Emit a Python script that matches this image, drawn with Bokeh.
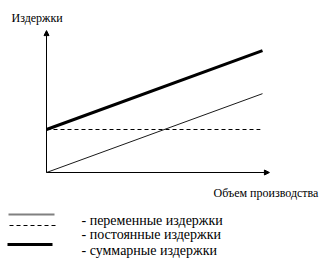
from bokeh.plotting import figure
from bokeh.models import Range1d, Arrow, NormalHead, Label
from bokeh.core.properties import value
from bokeh.embed import file_html
from bokeh.resources import INLINE

# ---- data (arbitrary units) ----
volume = [0, 10]                 # объем производства
variable_costs = [0, 5.5]        # переменные издержки
fixed_costs = [3, 3]             # постоянные издержки
total_costs = [3, 8.5]           # суммарные издержки
fixed_end = 9.9                  # dashed line stops slightly before the others
x_axis_end = 10.32
y_axis_end = 9.9

y_label = "Издержки"
x_label = "Объем производства"
legend_labels = ["- переменные издержки", "- постоянные издержки", "- суммарные  издержки"]

W, H = 327, 265
X0, Y0 = 46, 172          # pixel position of origin
SX, SY = 21.6, 14.333     # pixels per unit

def dx(px):
    return (px - X0) / SX

def dy(py):
    return (Y0 - py) / SY

p = figure(width=W, height=H, output_backend="svg", toolbar_location=None,
           x_range=Range1d(dx(0), dx(W)), y_range=Range1d(dy(H), dy(0)),
           min_border=0, min_border_left=0, min_border_right=0,
           min_border_top=0, min_border_bottom=0)
p.axis.visible = False
p.grid.visible = False
p.outline_line_color = None
p.background_fill_color = "white"
p.border_fill_color = "white"

# axes with arrows
p.add_layout(Arrow(end=NormalHead(size=5, fill_color="black", line_color="black", line_width=1),
                   x_start=0, y_start=0, x_end=0, y_end=y_axis_end,
                   line_color="black", line_width=1))
p.add_layout(Arrow(end=NormalHead(size=5, fill_color="black", line_color="black", line_width=1),
                   x_start=0, y_start=0, x_end=x_axis_end, y_end=0,
                   line_color="black", line_width=1))

# series
p.line(volume, variable_costs, line_color="#1a1a1a", line_width=1)
p.line([volume[0], fixed_end], fixed_costs, line_color="black", line_width=1, line_dash="4 3")
p.line(volume, total_costs, line_color="black", line_width=3)

p.text(x=[dx(11)], y=[dy(17.5)], text=[y_label], text_font=value("Liberation Serif"),
       text_font_size="12px", text_color="black", text_baseline="alphabetic")
p.add_layout(Label(x=dx(213), y=dy(192), text=x_label, text_font="serif",
                   text_font_size="12px", text_color="black", text_baseline="alphabetic"))

# manual legend
leg_styles = [
    dict(color="#808080", width=2, dash="solid", y=214, x0=8, x1=54),
    dict(color="black", width=1, dash="4 3", y=225, x0=9, x1=55),
    dict(color="black", width=3, dash="solid", y=244, x0=7, x1=52),
]
baselines = [220, 234, 249.5]
for st in leg_styles:
    p.line([dx(st["x0"]), dx(st["x1"])], [dy(st["y"]), dy(st["y"])],
           line_color=st["color"], line_width=st["width"], line_dash=st["dash"])
p.text(x=[dx(81)] * 3, y=[dy(b) for b in baselines], text=legend_labels,
       text_font=value("serif"), text_font_size="14px", text_color="black",
       text_baseline="alphabetic")

open("out.html", "w").write(file_html(p, INLINE))
